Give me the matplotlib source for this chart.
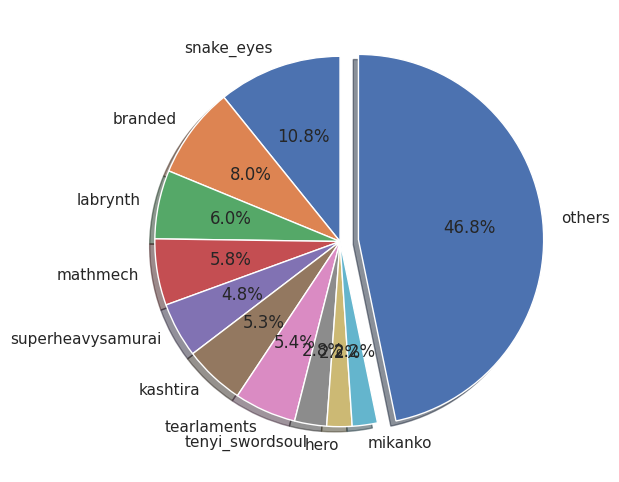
import matplotlib
matplotlib.use("Agg")
import matplotlib.pyplot as plt
import seaborn as sns

sns.set_theme()
plt.rcParams['font.family'] = ['DejaVu Sans']

labels = ["snake_eyes", "branded", "labrynth", "mathmech", "superheavysamurai",
          "kashtira", "tearlaments", "tenyi_swordsoul", "hero", "mikanko", "others"]
values = [10.8, 8.0, 6.0, 5.8, 4.8, 5.3, 5.4, 2.8, 2.2, 2.2, 46.8]
explode = [0, 0, 0, 0, 0, 0, 0, 0, 0, 0, 0.1]

fig = plt.figure(figsize=(6.19, 4.82), dpi=100)
ax = fig.add_axes([0.1753, 0.0187, 0.748, 0.9606])
ax.pie(values, labels=labels, explode=explode, autopct='%1.1f%%',
       shadow=True, startangle=90)
ax.set_aspect('equal')
fig.savefig("out.png", dpi=100)
